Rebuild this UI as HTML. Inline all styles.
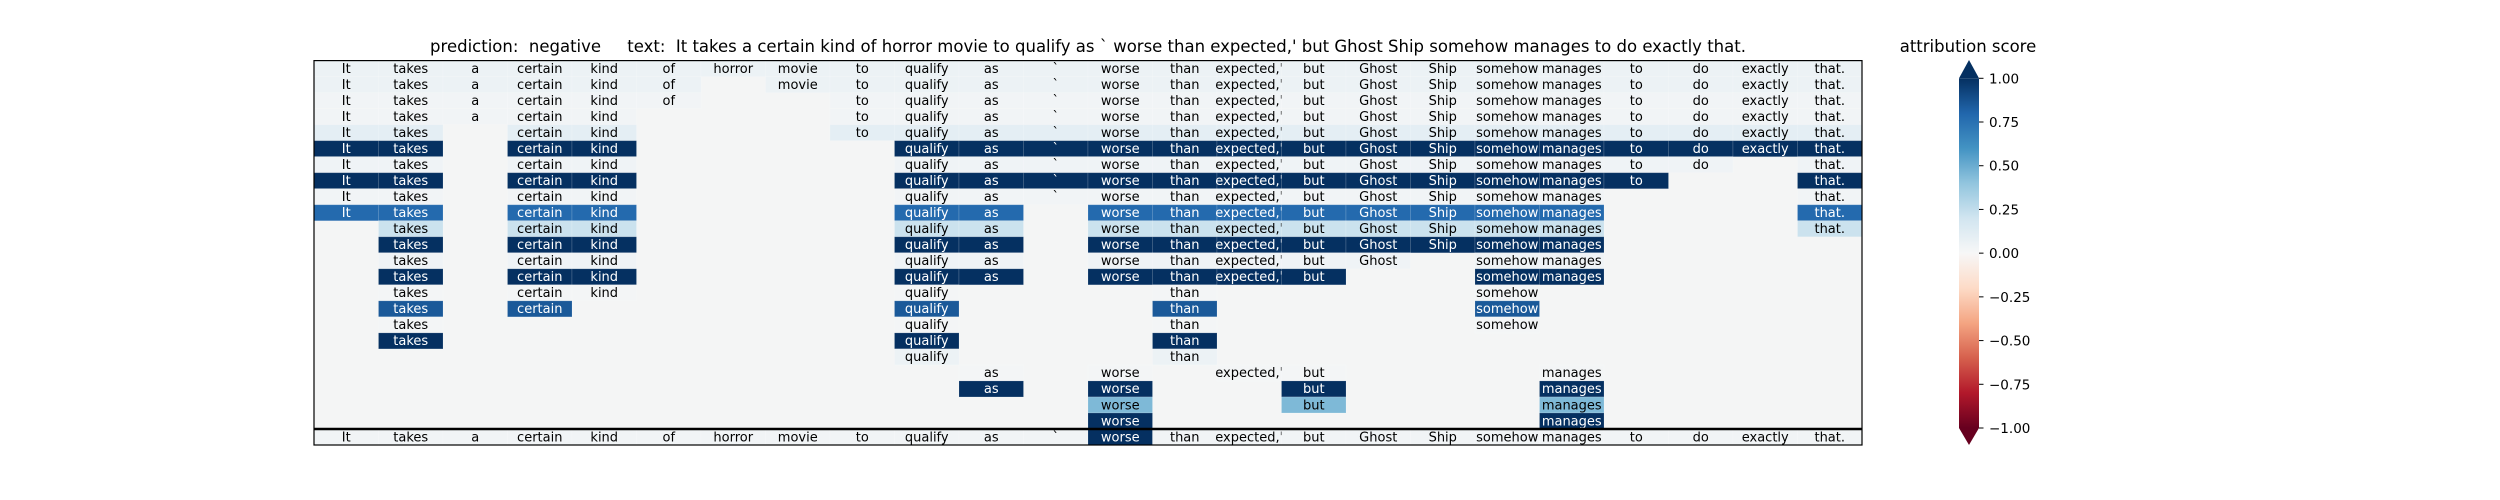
<!DOCTYPE html>
<html><head><meta charset="utf-8"><style>
html,body{margin:0;padding:0;background:#fff;}
svg{display:block;font-family:"DejaVu Sans","Liberation Sans",sans-serif;}
</style></head><body>
<svg id="chart" width="2500" height="500" viewBox="0 0 2500 500" xmlns="http://www.w3.org/2000/svg">
<defs>
<linearGradient id="cbgrad" x1="0" y1="1" x2="0" y2="0">
<stop offset="0" stop-color="#67001f"/><stop offset="0.1" stop-color="#b2182b"/><stop offset="0.2" stop-color="#d6604d"/><stop offset="0.3" stop-color="#f4a582"/><stop offset="0.4" stop-color="#fddbc7"/><stop offset="0.5" stop-color="#f7f7f7"/><stop offset="0.6" stop-color="#d1e5f0"/><stop offset="0.7" stop-color="#92c5de"/><stop offset="0.8" stop-color="#4393c3"/><stop offset="0.9" stop-color="#2166ac"/><stop offset="1" stop-color="#053061"/>
</linearGradient>
</defs>
<text x="1088" y="52" font-size="16.5" text-anchor="middle" fill="#000" xml:space="preserve">prediction:  negative     text:  It takes a certain kind of horror movie to qualify as ` worse than expected,' but Ghost Ship somehow manages to do exactly that.</text>
<g id="cells"></g>
<rect x="314" y="60.6" width="1548" height="384.4" fill="none" stroke="#000" stroke-width="1.2"/>
<line x1="314" y1="429" x2="1862" y2="429" stroke="#000" stroke-width="2.5"/>
<text x="1968" y="52" font-size="16.5" text-anchor="middle">attribution score</text>
<polygon points="1959,78.3 1969,60 1979,78.3" fill="#053061"/>
<polygon points="1959,428 1969,445 1979,428" fill="#67001f"/>
<rect x="1959" y="78.3" width="20" height="349.7" fill="url(#cbgrad)"/>
<g id="cbticks"></g>
</svg>
<script>
const tokens = ["It","takes","a","certain","kind","of","horror","movie","to","qualify","as","`","worse","than","expected,'","but","Ghost","Ship","somehow","manages","to","do","exactly","that."];
const rowMasks = [
"111111111111111111111111","111111011111111111111111","111111001111111111111111","111110001111111111111111",
"110110001111111111111111","110110000111111111111111","110110000111111111111101","110110000111111111111001",
"110110000111111111110001","110110000110111111110001","010110000110111111110001","010110000110111111110000",
"010110000110111110110000","010110000110111100110000","010110000100010000100000","010100000100010000100000",
"010000000100010000100000","010000000100010000000000","000000000100010000000000","000000000010101100010000",
"000000000010100100010000","000000000000100100010000","000000000000100000010000"];
const rowValues = [0.06,0.06,0.03,0.03,0.1,1,0.04,1,0.03,0.78,0.22,1,0.04,1,0.02,0.85,0.02,1,0.06,0.02,1,0.45,1];
const referenceValues = [0.03,0.03,0.03,0.03,0.03,0.03,0.03,0.03,0.03,0.03,0.03,0.03,1,0.03,0.03,0.03,0.03,0.03,0.03,0.03,0.03,0.03,0.03,0.03];
const cbTicks = [1,0.75,0.5,0.25,0,-0.25,-0.5,-0.75,-1];
const cbLabels = ["1.00","0.75","0.50","0.25","0.00","\u22120.25","\u22120.50","\u22120.75","\u22121.00"];

const NS="http://www.w3.org/2000/svg";
const X0=314, X1=1862, Y0=60.6, RH=16.017;
const colW=(X1-X0)/tokens.length;
const xPos=i=>X0+i*colW;
const yPos=r=>Y0+r*RH;
const stops=["#67001f","#b2182b","#d6604d","#f4a582","#fddbc7","#f7f7f7","#d1e5f0","#92c5de","#4393c3","#2166ac","#053061"];
function hex(h){return [1,3,5].map(i=>parseInt(h.substr(i,2),16));}
function cmap(v){
  v=Math.max(-1,Math.min(1,v));
  const t=(v+1)/2*10, i=Math.min(9,Math.floor(t)), f=t-i;
  const a=hex(stops[i]), b=hex(stops[i+1]);
  return "rgb("+a.map((c,k)=>Math.round(c+(b[k]-c)*f)).join(",")+")";
}
const g=document.getElementById("cells");
const bg=document.createElementNS(NS,"rect");
bg.setAttribute("x",X0);bg.setAttribute("y",Y0);bg.setAttribute("width",X1-X0);bg.setAttribute("height",RH*24);bg.setAttribute("fill","#f4f5f5");


g.appendChild(bg);
function cell(r,c,v,name){
  const rc=document.createElementNS(NS,"rect");
  rc.setAttribute("x",xPos(c));rc.setAttribute("y",yPos(r));rc.setAttribute("width",colW);rc.setAttribute("height",RH);
  rc.setAttribute("fill",cmap(v));rc.setAttribute("stroke","rgba(255,255,255,0.18)");rc.setAttribute("stroke-width","0.8");
  
  
  g.appendChild(rc);
  const tx=document.createElementNS(NS,"text");
  tx.setAttribute("x",xPos(c)+colW/2);tx.setAttribute("y",yPos(r)+12.3);
  tx.setAttribute("font-size","13");tx.setAttribute("text-anchor","middle");
  tx.setAttribute("fill",v>0.5?"#fff":"#000");
  tx.textContent=tokens[c];
  
  
  g.appendChild(tx);
}
rowMasks.forEach((m,r)=>{
  for(let c=0;c<tokens.length;c++) if(m[c]==="1") cell(r,c,rowValues[r],"perturbation-row-"+r);
});
referenceValues.forEach((v,c)=>cell(23,c,v,"reference-row"));

const tg=document.getElementById("cbticks");
const cbY=v=>78.3+(1-v)/2*349.7;
cbTicks.forEach((v,i)=>{
  const l=document.createElementNS(NS,"line");
  l.setAttribute("x1",1979);l.setAttribute("x2",1983.5);l.setAttribute("y1",cbY(v));l.setAttribute("y2",cbY(v));l.setAttribute("stroke","#000");
  
  
  tg.appendChild(l);
  const t=document.createElementNS(NS,"text");
  t.setAttribute("x",1989);t.setAttribute("y",cbY(v)+5);t.setAttribute("font-size","13.5");
  t.textContent=cbLabels[i];
  
  
  tg.appendChild(t);
});
</script>
</body></html>
